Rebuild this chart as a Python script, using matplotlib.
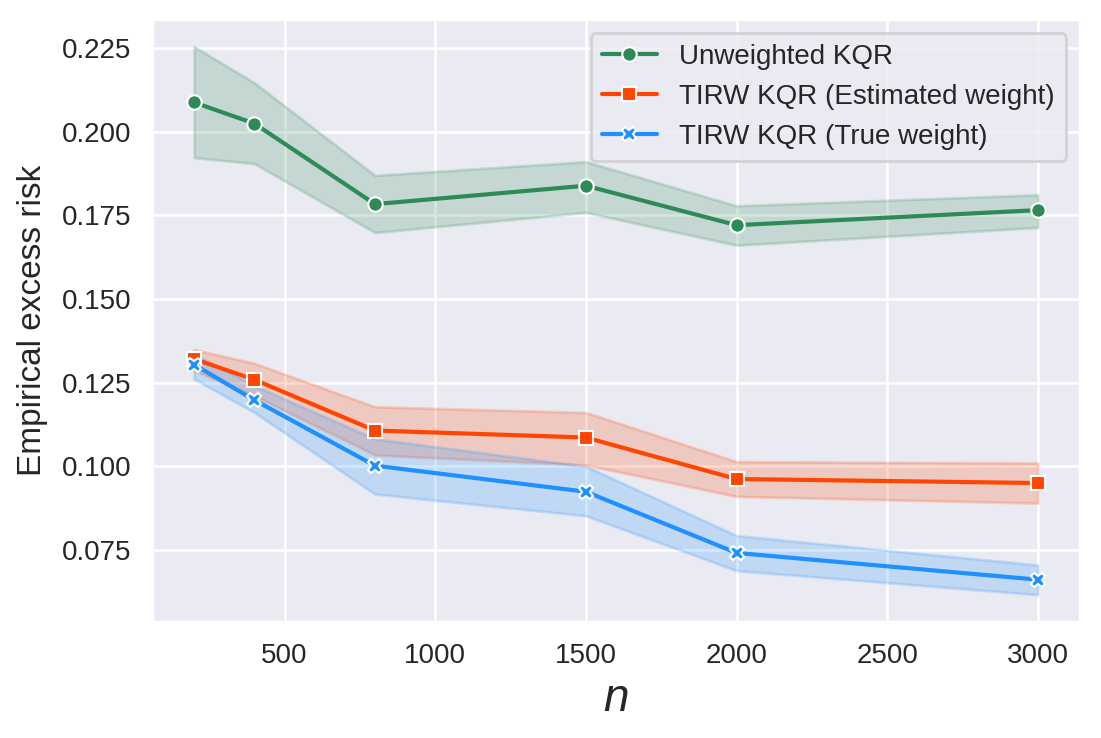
import matplotlib
matplotlib.use("Agg")
import matplotlib.pyplot as plt
import seaborn as sns
import numpy as np

# sample sizes
n_values = [200, 400, 800, 1500, 2000, 3000]

# Unweighted KQR: mean and band limits
unw_mean = [0.2088, 0.2025, 0.1784, 0.1839, 0.1721, 0.1766]
unw_low = [0.1923, 0.1905, 0.1699, 0.1759, 0.1661, 0.1714]
unw_high = [0.2255, 0.2147, 0.1870, 0.1911, 0.1779, 0.1812]

# TIRW KQR with estimated weight
est_mean = [0.1321, 0.1259, 0.1107, 0.1086, 0.0962, 0.0950]
est_low = [0.1286, 0.1211, 0.1034, 0.1004, 0.0910, 0.0890]
est_high = [0.1349, 0.1308, 0.1178, 0.1161, 0.1014, 0.1010]

# TIRW KQR with true weight
true_mean = [0.1304, 0.1198, 0.1002, 0.0924, 0.0741, 0.0661]
true_low = [0.1261, 0.1161, 0.0917, 0.0852, 0.0688, 0.0616]
true_high = [0.1336, 0.1241, 0.1082, 0.1000, 0.0793, 0.0705]

sns.set_theme(style="darkgrid")
plt.rcParams['font.family'] = ['Liberation Sans', 'DejaVu Sans']
plt.rcParams['grid.linewidth'] = 0.9

fig, ax = plt.subplots(figsize=(5.505, 3.69), dpi=200)
fig.subplots_adjust(left=0.138, right=0.981, top=0.974, bottom=0.157)

series = [
    ("Unweighted KQR", unw_mean, unw_low, unw_high, "seagreen", "o"),
    ("TIRW KQR (Estimated weight)", est_mean, est_low, est_high, "orangered", "s"),
    ("TIRW KQR (True weight)", true_mean, true_low, true_high, "dodgerblue", "X"),
]

for label, mean, low, high, color, marker in series:
    ax.fill_between(n_values, low, high, color=color, alpha=0.2, linewidth=1)
    ax.plot(n_values, mean, color=color, marker=marker, markersize=5.2,
            markeredgecolor='white', markeredgewidth=0.75, linewidth=1.5,
            label=label)

ax.tick_params(axis='both', labelsize=10, length=0, pad=7.5)
ax.set_ylabel("Empirical excess risk", fontsize=12, labelpad=5)
ax.set_xlabel("n", fontsize=16.5, fontstyle='italic', labelpad=3)
ax.legend(loc='upper right', fontsize=10)

fig.savefig("out.png", dpi=200)
